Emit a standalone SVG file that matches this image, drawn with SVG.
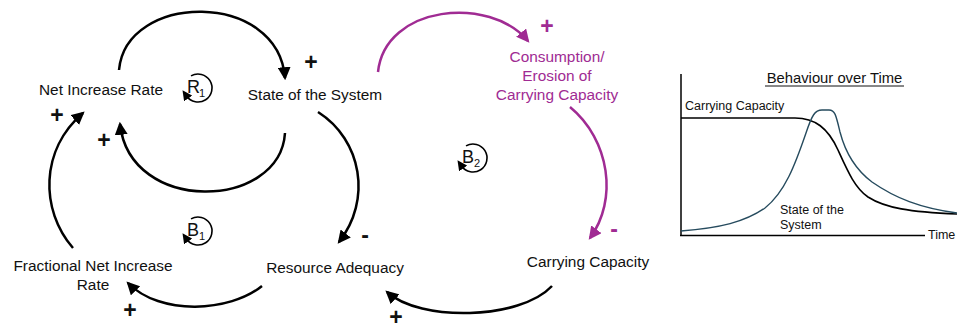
<svg xmlns="http://www.w3.org/2000/svg" width="957" height="330" viewBox="0 0 957 330">
<defs>
<style>
.lbl{font-family:"Liberation Sans",Arial,sans-serif;font-size:15.4px;fill:#111;text-anchor:middle}
.ttl{font-family:"Liberation Sans",Arial,sans-serif;font-size:14.8px;fill:#111;text-anchor:middle}
.pl{font-family:"Liberation Sans",Arial,sans-serif;font-size:23px;font-weight:bold;fill:#111;text-anchor:middle}
.pur{fill:#A02B93}
.lp{font-family:"Liberation Sans",Arial,sans-serif;font-size:18px;fill:#111}
.sub{font-family:"Liberation Sans",Arial,sans-serif;font-size:11px;fill:#111}
.sm{font-family:"Liberation Sans",Arial,sans-serif;font-size:12.5px;fill:#111}
.arr{fill:none;stroke:#000;stroke-width:2.5}
.parr{fill:none;stroke:#A02B93;stroke-width:2.5}
.loop{fill:none;stroke:#000;stroke-width:1.6}
</style>
<marker id="ah" viewBox="0 0 12 12" refX="10" refY="6" markerWidth="13" markerHeight="13" markerUnits="userSpaceOnUse" orient="auto"><path d="M0,0 L12,6 L0,12 Z" fill="#000"/></marker>
<marker id="ahp" viewBox="0 0 12 12" refX="10" refY="6" markerWidth="13" markerHeight="13" markerUnits="userSpaceOnUse" orient="auto"><path d="M0,0 L12,6 L0,12 Z" fill="#A02B93"/></marker>
<marker id="ahs" viewBox="0 0 10 10" refX="3" refY="5" markerWidth="10" markerHeight="10" markerUnits="userSpaceOnUse" orient="auto"><path d="M0,0 L10,5 L0,10 Z" fill="#000"/></marker>
<path id="loopArc" d="M-7,-12.1 A14,14 0 1 1 -11.5,8"/>
</defs>

<g id="connectors">
<path class="arr" d="M119,70 C126,-8 278,-10 285,78" marker-end="url(#ah)"/>
<path class="arr" d="M285,133 C280,210 130,215 120,124" marker-end="url(#ah)"/>
<path class="arr" d="M73,248 C40,210 40,150 83,113" marker-end="url(#ah)"/>
<path class="arr" d="M318,112 C362,140 372,200 339,242" marker-end="url(#ah)"/>
<path class="arr" d="M262,286 C230,312 160,316 128,283" marker-end="url(#ah)"/>
<path class="arr" d="M552,286 C520,320 420,322 387,292" marker-end="url(#ah)"/>
<path class="parr" d="M378,72 C385,5 490,-5 528,41" marker-end="url(#ahp)"/>
<path class="parr" d="M570,107 C610,140 618,200 590,238" marker-end="url(#ahp)"/>
</g>

<g id="signs">
<text class="pl" x="311" y="70">+</text>
<text class="pl" x="104" y="148">+</text>
<text class="pl" x="57" y="123">+</text>
<text class="pl" x="130" y="318">+</text>
<text class="pl" x="396" y="325">+</text>
<text class="pl pur" x="547" y="34">+</text>
<text class="pl" x="365" y="243">-</text>
<text class="pl pur" x="614" y="237">-</text>
</g>

<g id="node-net-increase-rate"><text class="lbl" x="101" y="95">Net Increase Rate</text></g>
<g id="node-state"><text class="lbl" x="315" y="100">State of the System</text></g>
<g id="node-consumption"><text class="lbl pur" x="557" y="62">Consumption/</text><text class="lbl pur" x="557" y="81">Erosion of</text><text class="lbl pur" x="557" y="100">Carrying Capacity</text></g>
<g id="node-carrying-capacity"><text class="lbl" x="588" y="267">Carrying Capacity</text></g>
<g id="node-resource-adequacy"><text class="lbl" x="335" y="273">Resource Adequacy</text></g>
<g id="node-fractional"><text class="lbl" x="93" y="271">Fractional Net Increase</text><text class="lbl" x="93" y="290">Rate</text></g>

<g id="loop-R1" transform="translate(198,88)">
<use href="#loopArc" class="loop" marker-end="url(#ahs)"/>
<text class="lp" x="-11" y="5">R</text><text class="sub" x="1" y="9">1</text>
</g>
<g id="loop-B1" transform="translate(198,231)">
<use href="#loopArc" class="loop" marker-end="url(#ahs)"/>
<text class="lp" x="-11" y="5">B</text><text class="sub" x="1" y="9">1</text>
</g>
<g id="loop-B2" transform="translate(473,158)">
<use href="#loopArc" class="loop" marker-end="url(#ahs)"/>
<text class="lp" x="-11" y="5">B</text><text class="sub" x="1" y="9">2</text>
</g>

<g id="behaviour-graph">
<text class="ttl" x="834.5" y="83">Behaviour over Time</text>
<line x1="765" y1="86" x2="904" y2="86" stroke="#111" stroke-width="1"/>
<line x1="681" y1="74" x2="681" y2="236" stroke="#000" stroke-width="1.5"/>
<line x1="680" y1="235.5" x2="925" y2="235.5" stroke="#000" stroke-width="1.5"/>
<text class="sm" x="928" y="239">Time</text>
<text class="sm" x="685" y="110">Carrying Capacity</text>
<text class="sm" x="780" y="214">State of the</text>
<text class="sm" x="780" y="229">System</text>
<path d="M681,118 L795,118 C815,118 828,128 838,150 C848,172 855,188 868,197 C885,208 910,212 957,214" fill="none" stroke="#000" stroke-width="1.6"/>
<path d="M681,231 C720,228 745,222 765,208 C785,192 795,165 806,133 C812,115 815,110 822,110 L829,110 C835,110 836,115 840,132 C846,155 856,170 872,182 C895,198 920,208 957,213" fill="none" stroke="#264b5e" stroke-width="1.4"/>
</g>
</svg>
